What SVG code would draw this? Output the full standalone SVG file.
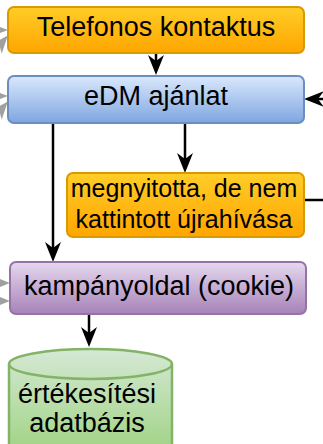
<svg xmlns="http://www.w3.org/2000/svg" width="323" height="444" viewBox="0 0 323 444">
<style>
.t{font-family:"Liberation Sans",Arial,sans-serif;font-size:27px;fill:#000;text-anchor:middle}
.t2{font-size:25px}
.c{fill:none;stroke:#000;stroke-width:2.5}
.g{fill:none;stroke:#a0a0a0;stroke-width:2.5}
.box{stroke-width:2}
</style>
<defs>
<linearGradient id="gO" x1="0" y1="0" x2="0" y2="1"><stop offset="0" stop-color="#ffcd28"/><stop offset="1" stop-color="#ffa500"/></linearGradient>
<linearGradient id="gB" x1="0" y1="0" x2="0" y2="1"><stop offset="0" stop-color="#dae8fc"/><stop offset="1" stop-color="#7ea6e0"/></linearGradient>
<linearGradient id="gP" x1="0" y1="0" x2="0" y2="1"><stop offset="0" stop-color="#e6d8ee"/><stop offset="1" stop-color="#a682b8"/></linearGradient>
<linearGradient id="gG" gradientUnits="userSpaceOnUse" x1="0" y1="349" x2="0" y2="470"><stop offset="0" stop-color="#d5e8d4"/><stop offset="1" stop-color="#97d077"/></linearGradient>
<marker id="ah" viewBox="0 0 20 16" refX="13" refY="8" markerWidth="20" markerHeight="16" markerUnits="userSpaceOnUse" orient="auto"><path d="M0,0 L20,8 L0,16 L6,8 Z" fill="#000"/></marker>
<marker id="ag" viewBox="0 0 18 14" refX="12" refY="7" markerWidth="18" markerHeight="14" markerUnits="userSpaceOnUse" orient="auto"><path d="M0,0 L18,7 L0,14 L5,7 Z" fill="#a0a0a0"/></marker>
</defs>
<g id="connectors">
<path class="g" d="M-10,30 L2,30" marker-end="url(#ag)"/>
<path class="g" d="M-6,52 L4,40" marker-end="url(#ag)"/>
<path class="g" d="M-10,96 L2,96" marker-end="url(#ag)"/>
<path class="g" d="M-6,118 L4,106" marker-end="url(#ag)"/>
<path class="g" d="M-10,283 L4,283" marker-end="url(#ag)"/>
<path class="g" d="M-10,301 L4,301" marker-end="url(#ag)"/>
<path class="c" d="M156,53 L156,68" marker-end="url(#ah)"/>
<path class="c" d="M330,99 L311,99" marker-end="url(#ah)"/>
<path class="c" d="M53,123 L53,255" marker-end="url(#ah)"/>
<path class="c" d="M185,123 L185,166" marker-end="url(#ah)"/>
<path class="c" d="M304,200 L330,200"/>
<path class="c" d="M89,314 L89,340" marker-end="url(#ah)"/>
</g>
<g id="telefonos">
<rect class="box" x="8" y="7" width="296" height="46" rx="6" fill="url(#gO)" stroke="#d79b00"/>
<text class="t" x="156" y="36">Telefonos kontaktus</text>
</g>
<g id="edm">
<rect class="box" x="8" y="76" width="296" height="47" rx="6" fill="url(#gB)" stroke="#6c8ebf"/>
<text class="t" x="156" y="105">eDM ajánlat</text>
</g>
<g id="megnyitotta">
<rect class="box" x="67" y="173" width="237" height="64" rx="6" fill="url(#gO)" stroke="#d79b00"/>
<text class="t t2" x="184" y="197">megnyitotta, de nem</text>
<text class="t t2" x="184" y="228">kattintott újrahívása</text>
</g>
<g id="kampanyoldal">
<rect class="box" x="10" y="262" width="296" height="52" rx="6" fill="url(#gP)" stroke="#9673a6"/>
<text class="t" x="159" y="295">kampányoldal (cookie)</text>
</g>
<g id="adatbazis">
<path d="M9,364 A81.5,15 0 0 1 172,364 L172,470 L9,470 Z" fill="url(#gG)" stroke="#82b366" stroke-width="2.5"/>
<path d="M9,364 A81.5,15 0 0 0 172,364" fill="none" stroke="#82b366" stroke-width="2.5"/>
<text class="t" x="87" y="403">értékesítési</text>
<text class="t" x="87" y="432">adatbázis</text>
</g>
</svg>
